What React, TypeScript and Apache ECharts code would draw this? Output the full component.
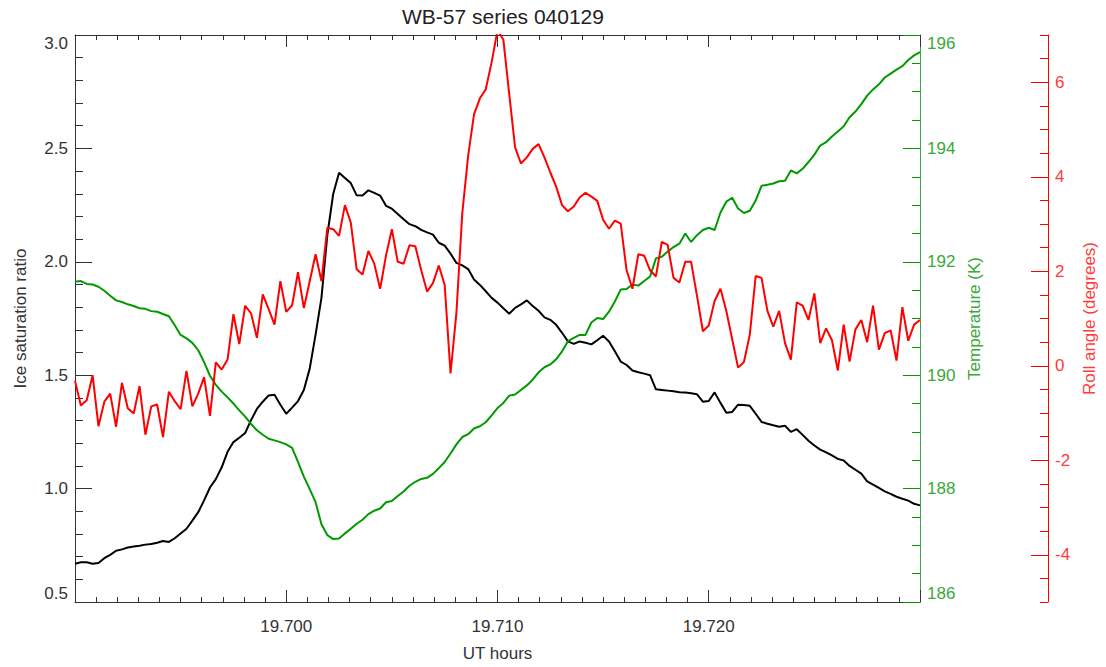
import React, { useEffect, useRef } from 'react';
import * as echarts from 'echarts';

// Sampling: 1-second samples starting at 19.690 UT hours
const START_HOUR = 19.69;
const STEP_HOURS = 1 / 3600;

// Ice saturation ratio (left axis)
const iceSaturation = [
  0.669, 0.675, 0.675, 0.669, 0.672, 0.693, 0.708, 0.726, 0.732, 0.740, 0.745, 0.748, 0.753, 0.756, 0.761, 0.769, 0.765, 0.781, 0.802, 0.823, 0.859, 0.896, 0.948, 1.005, 1.042,
  1.094, 1.162, 1.205, 1.224, 1.245, 1.302, 1.351, 1.383, 1.411, 1.414, 1.370, 1.330, 1.357, 1.386, 1.435, 1.529, 1.679, 1.841, 2.117, 2.299, 2.393, 2.370, 2.347, 2.293,
  2.292, 2.315, 2.304, 2.292, 2.247, 2.234, 2.211, 2.188, 2.166, 2.157, 2.141, 2.130, 2.120, 2.084, 2.071, 2.036, 1.995, 1.984, 1.968, 1.922, 1.898, 1.870, 1.841, 1.820,
  1.795, 1.771, 1.797, 1.812, 1.830, 1.805, 1.784, 1.755, 1.744, 1.722, 1.687, 1.649, 1.638, 1.649, 1.643, 1.636, 1.654, 1.674, 1.649, 1.606, 1.560, 1.545, 1.521, 1.513, 1.507,
  1.500, 1.438, 1.435, 1.432, 1.429, 1.425, 1.424, 1.420, 1.416, 1.383, 1.386, 1.424, 1.378, 1.334, 1.338, 1.370, 1.369, 1.365, 1.330, 1.294, 1.286, 1.279, 1.273, 1.277,
  1.250, 1.262, 1.237, 1.211, 1.190, 1.172, 1.160, 1.146, 1.131, 1.124, 1.100, 1.083, 1.066, 1.032, 1.018, 1.003, 0.988, 0.977, 0.964, 0.955, 0.947, 0.933, 0.926,
];

// Temperature (K) (green axis)
const temperature = [
  191.65, 191.66, 191.61, 191.60, 191.56, 191.49, 191.40, 191.32, 191.29, 191.25, 191.22, 191.18, 191.17, 191.13, 191.12, 191.08, 191.04, 190.88, 190.71, 190.65, 190.57, 190.44, 190.23, 189.99, 189.83,
  189.71, 189.61, 189.50, 189.38, 189.27, 189.14, 189.03, 188.95, 188.88, 188.85, 188.82, 188.78, 188.72, 188.47, 188.21, 187.99, 187.76, 187.37, 187.18, 187.11, 187.12, 187.21, 187.29, 187.38,
  187.45, 187.55, 187.61, 187.65, 187.76, 187.78, 187.87, 187.95, 188.05, 188.12, 188.17, 188.19, 188.26, 188.36, 188.47, 188.62, 188.78, 188.91, 188.96, 189.06, 189.10, 189.17, 189.29, 189.42,
  189.51, 189.64, 189.66, 189.74, 189.82, 189.92, 190.05, 190.14, 190.19, 190.28, 190.42, 190.60, 190.66, 190.71, 190.71, 190.93, 191.01, 190.99, 191.12, 191.30, 191.51, 191.52, 191.60, 191.58, 191.66,
  191.74, 192.06, 192.09, 192.18, 192.26, 192.32, 192.50, 192.35, 192.47, 192.56, 192.60, 192.56, 192.87, 193.06, 193.13, 192.94, 192.86, 192.90, 193.08, 193.34, 193.36, 193.38, 193.42, 193.43,
  193.61, 193.56, 193.64, 193.76, 193.89, 194.05, 194.11, 194.21, 194.30, 194.39, 194.55, 194.65, 194.78, 194.93, 195.04, 195.13, 195.25, 195.32, 195.39, 195.45, 195.56, 195.64, 195.70,
];

// Roll angle (degrees) (red axis)
const rollAngle = [
  -0.32, -0.84, -0.73, -0.20, -1.28, -0.76, -0.59, -1.29, -0.36, -0.90, -1.01, -0.43, -1.46, -0.86, -0.82, -1.51, -0.55, -0.75, -0.92, -0.11, -0.86, -0.59, -0.24, -1.06, 0.07,
  -0.08, 0.13, 1.09, 0.46, 1.27, 1.11, 0.59, 1.51, 1.20, 0.87, 1.79, 1.14, 1.28, 1.98, 1.22, 1.79, 2.36, 1.79, 2.92, 2.89, 2.75, 3.40, 3.03, 2.04,
  1.93, 2.43, 2.16, 1.63, 2.33, 2.89, 2.20, 2.16, 2.55, 2.53, 2.02, 1.57, 1.75, 2.12, 1.71, -0.16, 1.12, 3.23, 4.44, 5.32, 5.66, 5.85, 6.42, 7.10,
  6.90, 5.75, 4.62, 4.28, 4.41, 4.59, 4.69, 4.41, 4.09, 3.79, 3.40, 3.27, 3.37, 3.56, 3.66, 3.58, 3.49, 3.09, 2.90, 3.07, 3.01, 2.02, 1.63, 2.36, 2.33,
  2.02, 1.89, 2.62, 2.56, 1.86, 1.76, 2.20, 2.20, 1.48, 0.73, 0.85, 1.37, 1.63, 1.16, 0.56, -0.04, 0.08, 0.66, 1.90, 1.86, 1.16, 0.83, 1.16, 0.48,
  0.13, 1.34, 1.27, 0.97, 1.53, 0.48, 0.79, 0.54, -0.10, 0.87, 0.09, 0.77, 0.97, 0.50, 1.27, 0.34, 0.69, 0.75, 0.11, 1.24, 0.53, 0.87, 0.97,
];

const ROLL_MAJOR_TICKS = [-4, -2, 0, 2, 4, 6];

const FONT = '"Liberation Sans", Arial, Helvetica, sans-serif';
const INK = '#333333';
const GREEN = '#009a00';
const GREEN_AXIS = '#3aa83a';
const RED = '#ff0000';
const RED_TEXT = '#ff3b3b';

const toPairs = (vals: number[]) => vals.map((v, i) => [START_HOUR + i * STEP_HOURS, v]);

export default function App() {
  const ref = useRef<HTMLDivElement>(null);

  useEffect(() => {
    if (!ref.current) return;
    const chart = echarts.init(ref.current, undefined, { renderer: 'svg' });

    const labelBase = { fontFamily: FONT, fontSize: 17 };
    const xCommon = {
      type: 'value' as const,
      min: 19.69,
      max: 19.73,
      interval: 0.01,
      axisLine: { show: true, onZero: false, lineStyle: { color: INK, width: 1 } },
      axisTick: { show: true, inside: true, length: 12, lineStyle: { color: INK } },
      minorTick: { show: true, splitNumber: 10, length: 5, lineStyle: { color: INK } },
      splitLine: { show: false },
      minorSplitLine: { show: false },
    };

    const option: any = {
      animation: false,
      backgroundColor: '#ffffff',
      textStyle: { fontFamily: FONT },
      grid: { left: 75, right: 174, top: 35, bottom: 60, containLabel: false },
      graphic: [
        {
          type: 'text',
          x: 503,
          y: 16,
          style: {
            text: 'WB-57 series 040129',
            align: 'center',
            verticalAlign: 'middle',
            fontFamily: FONT,
            fontSize: 21,
            fill: '#222222',
          },
        },
      ],
      xAxis: [
        {
          ...xCommon,
          position: 'bottom',
          axisLabel: {
            ...labelBase,
            color: INK,
            margin: 16,
            showMinLabel: false,
            showMaxLabel: false,
            formatter: (v: number) => v.toFixed(3),
          },
          name: 'UT hours',
          nameLocation: 'middle',
          nameGap: 43,
          nameTextStyle: { ...labelBase, color: INK },
        },
        {
          ...xCommon,
          position: 'top',
          axisLabel: { show: false },
        },
      ],
      yAxis: [
        {
          type: 'value',
          position: 'left',
          min: 0.5,
          max: 3.0,
          interval: 0.5,
          axisLine: { show: true, onZero: false, lineStyle: { color: INK, width: 1 } },
          axisTick: { show: true, inside: true, length: 17, lineStyle: { color: INK } },
          minorTick: { show: true, splitNumber: 5, length: 8, lineStyle: { color: INK } },
          splitLine: { show: false },
          axisLabel: {
            ...labelBase,
            color: INK,
            margin: 7,
            formatter: (v: number) => v.toFixed(1),
            verticalAlignMaxLabel: 'top',
            verticalAlignMinLabel: 'bottom',
          },
          name: 'Ice saturation ratio',
          nameLocation: 'middle',
          nameRotate: 90,
          nameGap: 46,
          nameTextStyle: { ...labelBase, color: INK },
        },
        {
          type: 'value',
          position: 'right',
          offset: 0,
          min: 186,
          max: 196,
          interval: 2,
          axisLine: { show: true, onZero: false, lineStyle: { color: GREEN_AXIS, width: 1 } },
          axisTick: { show: true, inside: true, length: 17, lineStyle: { color: GREEN } },
          minorTick: { show: true, splitNumber: 4, length: 8, lineStyle: { color: GREEN } },
          splitLine: { show: false },
          axisLabel: {
            ...labelBase,
            color: GREEN_AXIS,
            margin: 7,
            verticalAlignMaxLabel: 'top',
            verticalAlignMinLabel: 'bottom',
          },
          name: 'Temperature (K)',
          nameLocation: 'middle',
          nameRotate: 90,
          nameGap: 44,
          nameTextStyle: { ...labelBase, color: GREEN_AXIS },
        },
        {
          type: 'value',
          position: 'right',
          offset: 128,
          min: -5,
          max: 7,
          interval: 0.5,
          axisLine: { show: true, onZero: false, lineStyle: { color: RED, width: 1 } },
          axisTick: { show: true, inside: true, length: 8, lineStyle: { color: RED } },
          splitLine: { show: false },
          axisLabel: { show: false },
        },
        {
          type: 'value',
          position: 'right',
          offset: 128,
          min: -5,
          max: 7,
          axisLine: { show: false, onZero: false },
          axisTick: {
            show: true,
            inside: true,
            length: 17,
            customValues: ROLL_MAJOR_TICKS,
            lineStyle: { color: RED },
          },
          splitLine: { show: false },
          axisLabel: {
            ...labelBase,
            color: RED_TEXT,
            margin: 7,
            customValues: ROLL_MAJOR_TICKS,
          },
          name: 'Roll angle (degrees)',
          nameLocation: 'middle',
          nameRotate: 90,
          nameGap: 29,
          nameTextStyle: { ...labelBase, color: RED_TEXT },
        },
      ],
      series: [
        {
          type: 'line',
          name: 'Ice saturation ratio',
          xAxisIndex: 0,
          yAxisIndex: 0,
          data: toPairs(iceSaturation),
          showSymbol: false,
          lineStyle: { color: '#000000', width: 2 },
          itemStyle: { color: '#000000' },
        },
        {
          type: 'line',
          name: 'Temperature',
          xAxisIndex: 0,
          yAxisIndex: 1,
          data: toPairs(temperature),
          showSymbol: false,
          lineStyle: { color: GREEN, width: 2 },
          itemStyle: { color: GREEN },
        },
        {
          type: 'line',
          name: 'Roll angle',
          xAxisIndex: 0,
          yAxisIndex: 2,
          data: toPairs(rollAngle),
          showSymbol: false,
          lineStyle: { color: RED, width: 2 },
          itemStyle: { color: RED },
        },
      ],
    };

    chart.setOption(option);
    return () => chart.dispose();
  }, []);

  return (
    <div
      ref={ref}
      style={{ position: 'absolute', left: 0, top: 0, width: 1106, height: 667, background: '#fff' }}
    />
  );
}
